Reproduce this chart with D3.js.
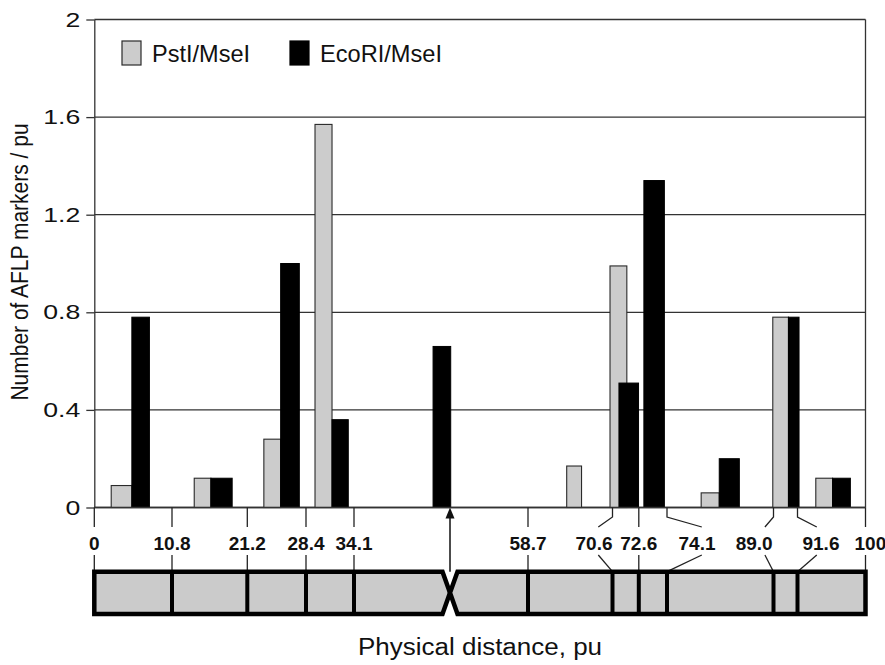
<!DOCTYPE html>
<html><head><meta charset="utf-8">
<script src="https://cdn.jsdelivr.net/npm/d3@7"></script>
<style>body{margin:0;background:#fff}svg{display:block}</style>
</head><body><svg id="c" width="885" height="665"></svg>
<script>
// ---------------- data ----------------
// segment boundaries along the chromosome (physical units, pu)
const boundaries = [0, 10.8, 21.2, 28.4, 34.1, 58.7, 70.6, 72.6, 74.1, 89.0, 91.6, 100];
const boundaryLabels = ["0", "10.8", "21.2", "28.4", "34.1", "58.7", "70.6", "72.6", "74.1", "89.0", "91.6", "100"];
const centromere = 47.7;
const seriesNames = ["PstI/MseI", "EcoRI/MseI"];
// marker density per segment (11 segments between the 12 boundaries)
const pstValues = [0.09, 0.12, 0.28, 1.57, 0, 0.17, 0.99, 0, 0.06, 0.78, 0.12];
const ecoValues = [0.78, 0.12, 1.00, 0.36, 0.66, 0, 0.51, 1.34, 0.20, 0.78, 0.12];
// bar spans on the schematic distance axis (pu)
const pstSpans = [[2.35, 5.22], [13.87, 16.17], [23.23, 25.29], [29.47, 31.49], null,
                  [64.15, 66.24], [70.25, 71.69], null, [78.88, 81.41], [88.9, 90.62], [93.86, 95.93]];
const ecoSpans = [[5.22, 7.66], [16.17, 19.11], [25.29, 27.58], [31.49, 33.42], [45.3, 47.8],
                  null, [71.09, 72.58], [72.87, 73.96], [81.41, 84.22], [90.62, 91.79], [95.93, 98.13]];
// label anchor (pu) for each boundary label, and where bent leaders meet the label row
const labelPos  = [0, 10.8, 21.2, 28.4, 34.1, 58.7, 68.0, 72.6, 78.3, 86.3, 94.5, 100.6];
const leaderEnd = [null, null, null, null, null, null, 68.6, null, 78.97, 87.8, 93.98, null];
const yTicks = [0, 0.4, 0.8, 1.2, 1.6, 2];
const yTickLabels = ["0", "0.4", "0.8", "1.2", "1.6", "2"];
const yTitle = "Number of AFLP markers / pu";
const xTitle = "Physical distance, pu";

// ---------------- layout ----------------
const font = "'Liberation Sans', Arial, Helvetica, sans-serif";
const svg = d3.select("#c");
const y = d3.scaleLinear().domain([0, 2]).range([507.5, 19.5]);
// schematic (piecewise) distance scale: short segments are drawn enlarged
const xDomain = [0, 10.8, 21.2, 28.4, 34.1, centromere, 58.7, 70.6, 72.6, 74.1, 89.0, 91.6, 100];
const xRange  = [94.3, 172, 247.3, 306, 354, 450, 528, 612.5, 638.8, 667, 773.5, 797.5, 865.5];
const x = d3.scaleLinear().domain(xDomain).range(xRange);

const lineCol = "#333";
// gridlines
svg.append("g").selectAll("line").data(yTicks).join("line")
  .attr("x1", x(0)).attr("x2", x(100))
  .attr("y1", d => y(d)).attr("y2", d => y(d))
  .attr("stroke", lineCol).attr("stroke-width", 1.3);
// right border
svg.append("line").attr("x1", x(100)).attr("x2", x(100)).attr("y1", y(0)).attr("y2", y(2))
  .attr("stroke", lineCol).attr("stroke-width", 1.3);

// bars
const segs = boundaries.slice(0, -1).map((b, i) => ({i, pst: pstValues[i], eco: ecoValues[i], ps: pstSpans[i], es: ecoSpans[i]}));
svg.append("g").selectAll("rect").data(segs.filter(d => d.ps && d.pst > 0)).join("rect")
  .attr("x", d => x(d.ps[0])).attr("width", d => x(d.ps[1]) - x(d.ps[0]))
  .attr("y", d => y(d.pst)).attr("height", d => y(0) - y(d.pst))
  .attr("fill", "#cccccc").attr("stroke", "#2a2a2a").attr("stroke-width", 1.1);
svg.append("g").selectAll("rect").data(segs.filter(d => d.es && d.eco > 0)).join("rect")
  .attr("x", d => x(d.es[0])).attr("width", d => x(d.es[1]) - x(d.es[0]))
  .attr("y", d => y(d.eco)).attr("height", d => y(0) - y(d.eco))
  .attr("fill", "#000").attr("stroke", "#000").attr("stroke-width", 1);

// y axis
const yAxis = d3.axisLeft(y).tickValues(yTicks).tickFormat((d, i) => yTickLabels[i])
  .tickSize(8).tickSizeOuter(0).tickPadding(6);
const ga = svg.append("g").attr("transform", `translate(${x(0)},0)`).call(yAxis);
ga.selectAll("path,line").attr("stroke", lineCol).attr("stroke-width", 1.3);
ga.selectAll(".tick text").each(function () {
  const t = d3.select(this);
  const tx = +t.attr("x");
  t.attr("x", 0).attr("transform", `translate(${tx},0) scale(1.3,1)`);
}).attr("font-family", font).attr("font-size", 20.5).attr("fill", "#111");
// x axis line
svg.append("line").attr("x1", x(0)).attr("x2", x(100)).attr("y1", y(0)).attr("y2", y(0))
  .attr("stroke", lineCol).attr("stroke-width", 1.3);

// x ticks with leaders
const yAx = y(0), tickBend = 517, tickEnd = 527, labelBase = 550, connTop = 555, chrTop = 571.7, chrBot = 614, chrMid = (chrTop + chrBot) / 2;
const tk = boundaries.map((b, i) => ({b, lab: boundaryLabels[i], lp: labelPos[i], le: leaderEnd[i]}));
const gx = svg.append("g").attr("fill", "none").attr("stroke", "#222").attr("stroke-width", 1.3);
gx.selectAll("path.t").data(tk).join("path").attr("class", "t")
  .attr("d", d => d.le == null
      ? `M${x(d.b)},${yAx}V${tickEnd}`
      : `M${x(d.b)},${yAx}V${tickBend}L${x(d.le)},${tickEnd}`);
gx.selectAll("path.c").data(tk).join("path").attr("class", "c")
  .attr("d", d => d.le == null
      ? `M${x(d.b)},${connTop}V${chrTop}`
      : `M${x(d.le)},${connTop}L${x(d.b)},${chrTop}`);
svg.append("g").selectAll("text").data(tk).join("text")
  .attr("x", d => x(d.lp)).attr("y", labelBase).attr("text-anchor", "middle")
  .attr("font-family", font).attr("font-size", 19).attr("font-weight", "bold").attr("fill", "#111")
  .text(d => d.lab);

// centromere arrow
const xc = x(centromere);
svg.append("line").attr("x1", xc).attr("x2", xc).attr("y1", chrTop).attr("y2", yAx + 8)
  .attr("stroke", "#111").attr("stroke-width", 1.5);
svg.append("path").attr("d", `M${xc},${yAx}L${xc - 4.5},${yAx + 11}L${xc + 4.5},${yAx + 11}Z`).attr("fill", "#111");

// chromosome
const pinch = 7.5;
const chr = svg.append("g").attr("stroke", "#000").attr("stroke-width", 4.5).attr("stroke-linejoin", "miter").attr("fill", "#cbcbcb");
chr.append("path").attr("d", `M${x(0)},${chrTop}H${xc - pinch}L${xc},${chrMid}L${xc - pinch},${chrBot}H${x(0)}Z`);
chr.append("path").attr("d", `M${xc + pinch},${chrTop}H${x(100)}V${chrBot}H${xc + pinch}L${xc},${chrMid}Z`);
chr.selectAll("line").data(boundaries.slice(1, -1)).join("line")
  .attr("x1", d => x(d)).attr("x2", d => x(d)).attr("y1", chrTop).attr("y2", chrBot).attr("stroke-width", 4);

// legend
const legend = [{name: seriesNames[0], fill: "#cccccc", stroke: "#2a2a2a", lx: 122, tl: 98}, {name: seriesNames[1], fill: "#000", stroke: "#000", lx: 290, tl: 122}];
const lg = svg.append("g").selectAll("g").data(legend).join("g").attr("transform", d => `translate(${d.lx},41)`);
lg.append("rect").attr("width", 19).attr("height", 24).attr("fill", d => d.fill).attr("stroke", d => d.stroke).attr("stroke-width", 1.2);
lg.append("text").attr("x", 30).attr("y", 21).attr("font-family", font).attr("font-size", 24.5)
  .attr("textLength", d => d.tl).attr("lengthAdjust", "spacingAndGlyphs").attr("fill", "#111").text(d => d.name);

// axis titles
svg.append("text").attr("transform", `translate(28,262) rotate(-90) scale(1,1.15)`).attr("text-anchor", "middle")
  .attr("font-family", font).attr("font-size", 21).attr("fill", "#111").text(yTitle);
svg.append("text").attr("x", 0).attr("y", 0).attr("transform", "translate(480,655) scale(1.13,1)").attr("text-anchor", "middle")
  .attr("font-family", font).attr("font-size", 23).attr("fill", "#111").text(xTitle);
</script></body></html>
